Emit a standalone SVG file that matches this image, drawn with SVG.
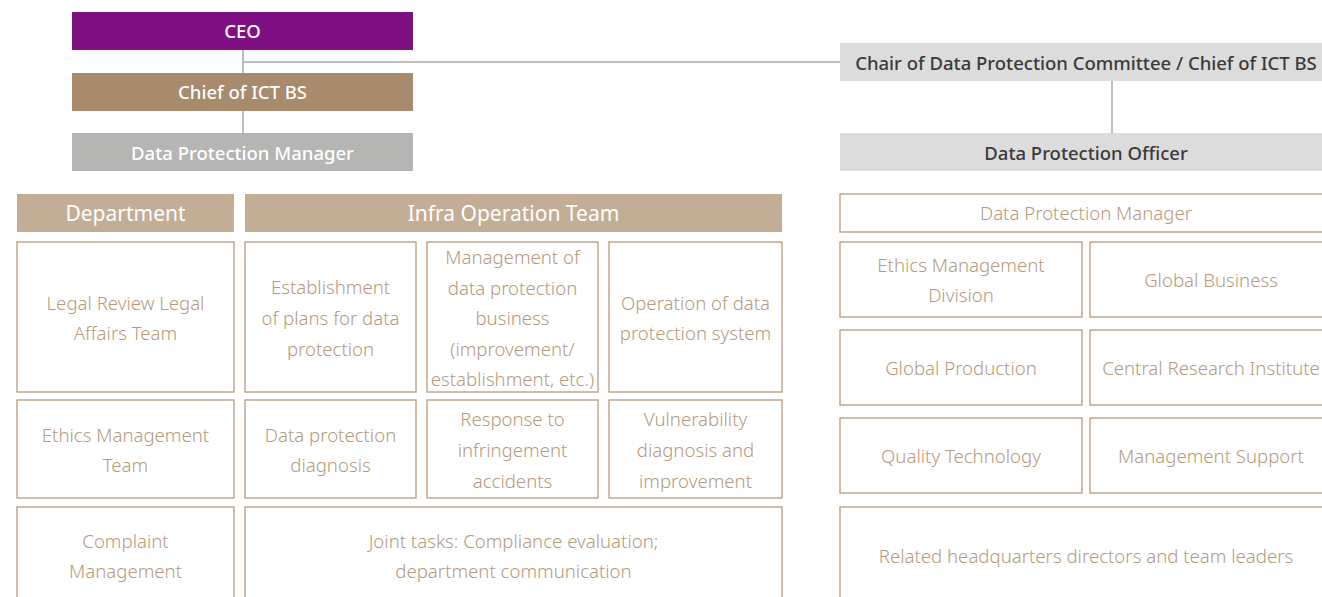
<svg xmlns="http://www.w3.org/2000/svg" width="1322" height="597" viewBox="0 0 1322 597">
<style>
.t{font-family:"Noto Sans","Open Sans",sans-serif;text-anchor:middle}
.top{font-size:18.5px;font-weight:500;fill:#ffffff}
.dark{font-size:18.5px;font-weight:500;fill:#3a3a3a}
.hdr{font-size:21px;font-weight:400;fill:#ffffff}
.bx{fill:#ffffff;stroke:#bba286;stroke-width:1.4}
.bt{font-size:18.6px;font-weight:300;fill:#b59a7e}
.ln{stroke:#a8a8a8;stroke-width:1.5;fill:none}
</style>
<g id="connectors">
<line class="ln" x1="243" y1="50" x2="243" y2="73"/>
<line class="ln" x1="243" y1="62" x2="840" y2="62"/>
<line class="ln" x1="243" y1="111" x2="243" y2="133"/>
<line class="ln" x1="1112" y1="81" x2="1112" y2="133"/>
</g>
<g id="ceo"><rect x="72" y="12" width="341" height="38" fill="#7e1083"/><text class="t top" x="242.5" y="38">CEO</text></g>
<g id="chief"><rect x="72" y="73" width="341" height="38" fill="#a88a6c"/><text class="t top" x="242.5" y="99">Chief of ICT BS</text></g>
<g id="dpm-left"><rect x="72" y="133" width="341" height="38" fill="#b5b5b4"/><text class="t top" x="242.5" y="160">Data Protection Manager</text></g>
<g id="chair"><rect x="840" y="43" width="492" height="38" fill="#dcdcdc"/><text class="t dark" x="1086" y="70">Chair of Data Protection Committee / Chief of ICT BS</text></g>
<g id="dpo"><rect x="840" y="133" width="492" height="38" fill="#dcdcdc"/><text class="t dark" x="1086" y="160">Data Protection Officer</text></g>
<g id="department"><rect x="17" y="194" width="217" height="38" fill="#c4ad95"/><text class="t hdr" x="125.5" y="221">Department</text></g>
<g id="infra"><rect x="245" y="194" width="537" height="38" fill="#c4ad95"/><text class="t hdr" x="513.5" y="221">Infra Operation Team</text></g>
<g id="legal"><rect class="bx" x="17" y="242" width="217" height="150"/><text class="t bt" x="125.5" y="310">Legal Review Legal</text><text class="t bt" x="125.5" y="340">Affairs Team</text></g>
<g id="establishment"><rect class="bx" x="245" y="242" width="171" height="150"/><text class="t bt" x="330.5" y="294">Establishment</text><text class="t bt" x="330.5" y="325">of plans for data</text><text class="t bt" x="330.5" y="356">protection</text></g>
<g id="management"><rect class="bx" x="427" y="242" width="171" height="150"/><text class="t bt" x="512.5" y="264">Management of</text><text class="t bt" x="512.5" y="295">data protection</text><text class="t bt" x="512.5" y="325">business</text><text class="t bt" x="512.5" y="356">(improvement/</text><text class="t bt" x="512.5" y="386">establishment, etc.)</text></g>
<g id="operation"><rect class="bx" x="609" y="242" width="173" height="150"/><text class="t bt" x="695.5" y="310">Operation of data</text><text class="t bt" x="695.5" y="340">protection system</text></g>
<g id="ethics-team"><rect class="bx" x="17" y="400" width="217" height="98"/><text class="t bt" x="125.5" y="442">Ethics Management</text><text class="t bt" x="125.5" y="472">Team</text></g>
<g id="diagnosis"><rect class="bx" x="245" y="400" width="171" height="98"/><text class="t bt" x="330.5" y="442">Data protection</text><text class="t bt" x="330.5" y="472">diagnosis</text></g>
<g id="response"><rect class="bx" x="427" y="400" width="171" height="98"/><text class="t bt" x="512.5" y="426">Response to</text><text class="t bt" x="512.5" y="457">infringement</text><text class="t bt" x="512.5" y="488">accidents</text></g>
<g id="vulnerability"><rect class="bx" x="609" y="400" width="173" height="98"/><text class="t bt" x="695.5" y="426">Vulnerability</text><text class="t bt" x="695.5" y="457">diagnosis and</text><text class="t bt" x="695.5" y="488">improvement</text></g>
<g id="complaint"><rect class="bx" x="17" y="507" width="217" height="110"/><text class="t bt" x="125.5" y="548">Complaint</text><text class="t bt" x="125.5" y="578">Management</text></g>
<g id="joint"><rect class="bx" x="245" y="507" width="537" height="110"/><text class="t bt" x="513.5" y="548">Joint tasks: Compliance evaluation;</text><text class="t bt" x="513.5" y="578">department communication</text></g>
<g id="dpm-right"><rect class="bx" x="840" y="194" width="492" height="38"/><text class="t bt" x="1086" y="220">Data Protection Manager</text></g>
<g id="ethics-div"><rect class="bx" x="840" y="242" width="242" height="75"/><text class="t bt" x="961" y="272">Ethics Management</text><text class="t bt" x="961" y="302">Division</text></g>
<g id="global-business"><rect class="bx" x="1090" y="242" width="242" height="75"/><text class="t bt" x="1211" y="287">Global Business</text></g>
<g id="global-production"><rect class="bx" x="840" y="330" width="242" height="75"/><text class="t bt" x="961" y="375">Global Production</text></g>
<g id="central-research"><rect class="bx" x="1090" y="330" width="242" height="75"/><text class="t bt" x="1211" y="375">Central Research Institute</text></g>
<g id="quality"><rect class="bx" x="840" y="418" width="242" height="75"/><text class="t bt" x="961" y="463">Quality Technology</text></g>
<g id="mgmt-support"><rect class="bx" x="1090" y="418" width="242" height="75"/><text class="t bt" x="1211" y="463">Management Support</text></g>
<g id="related"><rect class="bx" x="840" y="507" width="492" height="110"/><text class="t bt" x="1086" y="563">Related headquarters directors and team leaders</text></g>
</svg>
